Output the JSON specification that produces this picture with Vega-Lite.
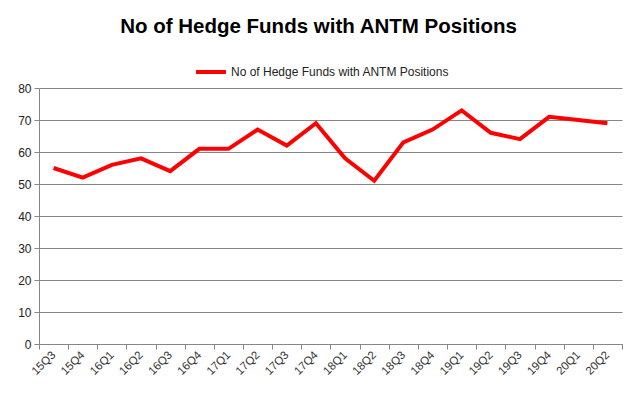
{
  "$schema": "https://vega.github.io/schema/vega-lite/v6.json",
  "width": 583,
  "height": 256,
  "padding": {"left": 17, "top": 16, "right": 12, "bottom": 5},
  "background": "white",
  "title": {
    "text": "No of Hedge Funds with ANTM Positions",
    "font": "Liberation Sans",
    "fontSize": 20.5,
    "fontWeight": "bold",
    "color": "#000000",
    "anchor": "middle",
    "dx": -12,
    "offset": 18
  },
  "data": {
    "values": [
      {"quarter": "15Q3", "funds": 55, "series": "No of Hedge Funds with ANTM Positions"},
      {"quarter": "15Q4", "funds": 52, "series": "No of Hedge Funds with ANTM Positions"},
      {"quarter": "16Q1", "funds": 56, "series": "No of Hedge Funds with ANTM Positions"},
      {"quarter": "16Q2", "funds": 58, "series": "No of Hedge Funds with ANTM Positions"},
      {"quarter": "16Q3", "funds": 54, "series": "No of Hedge Funds with ANTM Positions"},
      {"quarter": "16Q4", "funds": 61, "series": "No of Hedge Funds with ANTM Positions"},
      {"quarter": "17Q1", "funds": 61, "series": "No of Hedge Funds with ANTM Positions"},
      {"quarter": "17Q2", "funds": 67, "series": "No of Hedge Funds with ANTM Positions"},
      {"quarter": "17Q3", "funds": 62, "series": "No of Hedge Funds with ANTM Positions"},
      {"quarter": "17Q4", "funds": 69, "series": "No of Hedge Funds with ANTM Positions"},
      {"quarter": "18Q1", "funds": 58, "series": "No of Hedge Funds with ANTM Positions"},
      {"quarter": "18Q2", "funds": 51, "series": "No of Hedge Funds with ANTM Positions"},
      {"quarter": "18Q3", "funds": 63, "series": "No of Hedge Funds with ANTM Positions"},
      {"quarter": "18Q4", "funds": 67, "series": "No of Hedge Funds with ANTM Positions"},
      {"quarter": "19Q1", "funds": 73, "series": "No of Hedge Funds with ANTM Positions"},
      {"quarter": "19Q2", "funds": 66, "series": "No of Hedge Funds with ANTM Positions"},
      {"quarter": "19Q3", "funds": 64, "series": "No of Hedge Funds with ANTM Positions"},
      {"quarter": "19Q4", "funds": 71, "series": "No of Hedge Funds with ANTM Positions"},
      {"quarter": "20Q1", "funds": 70, "series": "No of Hedge Funds with ANTM Positions"},
      {"quarter": "20Q2", "funds": 69, "series": "No of Hedge Funds with ANTM Positions"}
    ]
  },
  "mark": {"type": "line", "strokeWidth": 4, "strokeJoin": "miter"},
  "encoding": {
    "x": {
      "field": "quarter",
      "type": "ordinal",
      "sort": null,
      "scale": {"type": "band", "paddingInner": 0, "paddingOuter": 0},
      "axis": {
        "title": null,
        "labelAngle": -45,
        "labelAlign": "right",
        "labelBaseline": "middle",
        "labelFont": "Liberation Sans",
        "labelFontSize": 11.5,
        "labelColor": "#333333",
        "labelPadding": 4,
        "tickBand": "extent",
        "tickColor": "#868686",
        "tickSize": 5,
        "domainColor": "#868686",
        "grid": false
      }
    },
    "y": {
      "field": "funds",
      "type": "quantitative",
      "scale": {"domain": [0, 80], "nice": false},
      "axis": {
        "title": null,
        "values": [0, 10, 20, 30, 40, 50, 60, 70, 80],
        "labelFont": "Liberation Sans",
        "labelFontSize": 12,
        "labelColor": "#222222",
        "labelPadding": 3,
        "tickColor": "#868686",
        "tickSize": 5,
        "domainColor": "#868686",
        "gridColor": "#868686",
        "gridWidth": 1
      }
    },
    "color": {
      "field": "series",
      "type": "nominal",
      "scale": {"range": ["#ff0000"]},
      "legend": {
        "title": null,
        "orient": "none",
        "legendX": 155,
        "legendY": -33,
        "direction": "horizontal",
        "symbolType": "stroke",
        "symbolStrokeWidth": 4,
        "symbolSize": 900,
        "labelOffset": 3,
        "labelFont": "Liberation Sans",
        "labelFontSize": 12,
        "labelColor": "#222222",
        "labelLimit": 0
      }
    }
  },
  "config": {
    "view": {"stroke": null}
  }
}
